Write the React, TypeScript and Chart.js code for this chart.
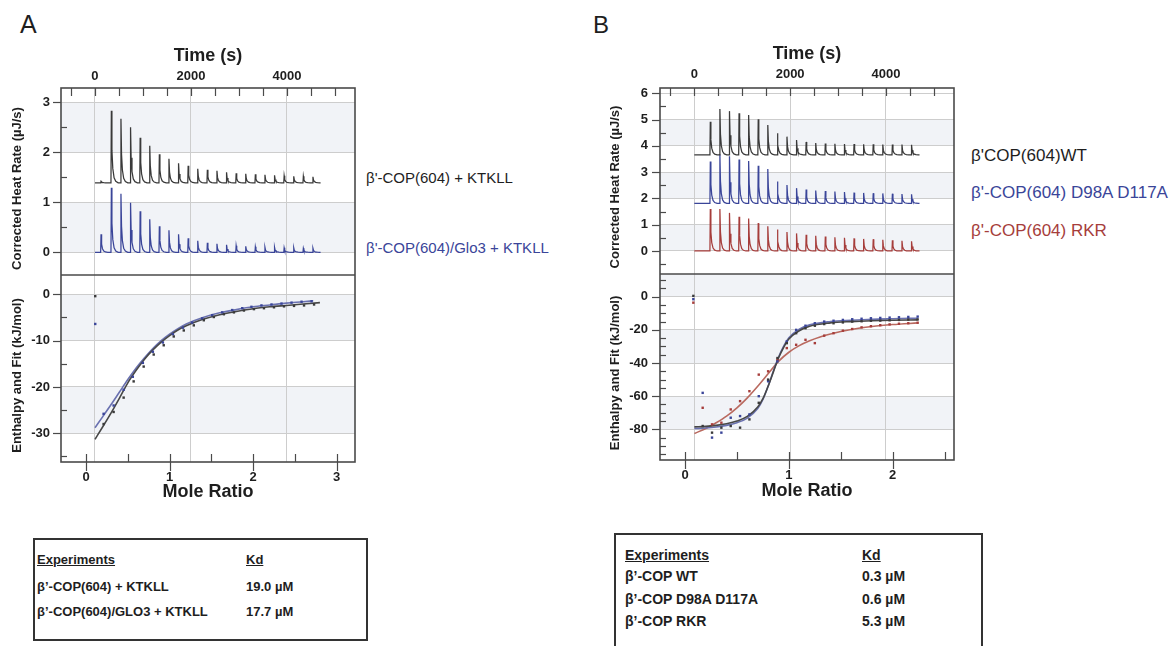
import React, { useEffect, useRef } from 'react';
import { Chart, registerables } from 'chart.js';

Chart.register(...registerables);

const FONT = "'Liberation Sans', Arial, Helvetica, sans-serif";
Chart.defaults.font.family = FONT;

// ---------------- Panel A : raw thermogram ----------------
const A_INJECTION_TIMES = [118, 333, 533, 733, 933, 1133, 1333, 1533, 1733, 1933, 2133, 2333, 2533, 2733, 2933, 3133, 3333, 3533, 3733, 3933, 4133, 4333, 4533];
const A_KTKLL_BASELINE = 1.39;
const A_KTKLL_PEAKS = [1.42, 2.83, 2.67, 2.5, 2.29, 2.13, 1.96, 1.87, 1.78, 1.73, 1.67, 1.65, 1.63, 1.6, 1.58, 1.57, 1.56, 1.55, 1.54, 1.53, 1.52, 1.52, 1.51];
const A_GLO3_BASELINE = 0.0;
const A_GLO3_PEAKS = [0.36, 1.29, 1.17, 0.99, 0.82, 0.66, 0.52, 0.44, 0.36, 0.28, 0.23, 0.19, 0.17, 0.15, 0.13, 0.12, 0.11, 0.1, 0.1, 0.09, 0.09, 0.08, 0.08];
const A_TRACE_END = 4700;

// ---------------- Panel A : binding isotherm ----------------
const A_RATIO_KTKLL = [0.11, 0.21, 0.33, 0.45, 0.57, 0.69, 0.81, 0.93, 1.05, 1.17, 1.29, 1.41, 1.53, 1.65, 1.77, 1.89, 2.01, 2.13, 2.25, 2.37, 2.49, 2.61, 2.73];
const A_DH_KTKLL = [-0.4, -28.0, -25.4, -22.3, -18.8, -15.6, -13.0, -11.0, -9.1, -7.8, -6.7, -5.6, -4.9, -4.3, -3.9, -3.5, -3.2, -3.0, -2.8, -2.6, -2.5, -2.4, -2.2];
const A_RATIO_GLO3 = [0.11, 0.21, 0.33, 0.45, 0.56, 0.68, 0.8, 0.92, 1.04, 1.16, 1.27, 1.39, 1.51, 1.63, 1.75, 1.87, 1.98, 2.1, 2.22, 2.34, 2.46, 2.58, 2.7];
const A_DH_GLO3 = [-6.4, -25.8, -24.0, -20.6, -17.8, -14.8, -12.4, -10.4, -8.6, -7.2, -6.1, -5.2, -4.5, -3.9, -3.4, -3.0, -2.7, -2.4, -2.2, -2.0, -1.8, -1.6, -1.5];
const A_FIT_RATIO_KTKLL = [0.107, 0.2, 0.3, 0.4, 0.5, 0.6, 0.7, 0.8, 0.9, 1.0, 1.1, 1.2, 1.4, 1.6, 1.8, 2.0, 2.2, 2.4, 2.6, 2.8];
const A_FIT_KTKLL = [-31.3, -28.6, -25.6, -22.4, -19.1, -16.4, -14.0, -12.0, -10.3, -8.9, -7.7, -6.8, -5.4, -4.4, -3.7, -3.1, -2.7, -2.4, -2.1, -1.8];
const A_FIT_RATIO_GLO3 = [0.107, 0.2, 0.3, 0.4, 0.5, 0.6, 0.7, 0.8, 0.9, 1.0, 1.1, 1.2, 1.4, 1.6, 1.8, 2.0, 2.2, 2.4, 2.6, 2.72];
const A_FIT_GLO3 = [-28.8, -26.4, -23.8, -21.1, -18.4, -15.9, -13.7, -11.7, -10.0, -8.6, -7.4, -6.4, -5.0, -4.0, -3.3, -2.7, -2.3, -1.9, -1.6, -1.4];

// ---------------- Panel B : raw thermogram ----------------
const B_INJECTION_TIMES = [326, 526, 726, 926, 1126, 1326, 1526, 1726, 1926, 2126, 2326, 2526, 2726, 2926, 3126, 3326, 3526, 3726, 3926, 4126, 4326, 4526];
const B_WT_BASELINE = 3.66;
const B_WT_PEAKS = [4.92, 5.4, 5.32, 5.24, 5.17, 5.01, 4.79, 4.48, 4.35, 4.22, 4.15, 4.11, 4.09, 4.08, 4.07, 4.07, 4.06, 4.06, 4.05, 4.05, 4.05, 4.04];
const B_D98A_BASELINE = 1.81;
const B_D98A_PEAKS = [3.4, 3.68, 3.6, 3.48, 3.42, 3.24, 3.12, 2.64, 2.51, 2.39, 2.34, 2.3, 2.28, 2.26, 2.24, 2.22, 2.21, 2.2, 2.19, 2.18, 2.17, 2.16];
const B_RKR_BASELINE = 0.0;
const B_RKR_PEAKS = [1.6, 1.6, 1.45, 1.3, 1.24, 1.06, 0.94, 0.82, 0.72, 0.67, 0.62, 0.58, 0.55, 0.52, 0.5, 0.48, 0.46, 0.45, 0.43, 0.41, 0.39, 0.37];
const B_TRACE_END = 4700;

// ---------------- Panel B : binding isotherm ----------------
const B_RATIO = [0.08, 0.17, 0.26, 0.35, 0.44, 0.53, 0.62, 0.71, 0.8, 0.89, 0.98, 1.07, 1.16, 1.25, 1.34, 1.43, 1.52, 1.61, 1.7, 1.79, 1.88, 1.97, 2.06, 2.15, 2.24];
const B_DH_WT = [0.5, -78, -82, -79, -78, -79, -74, -64, -50, -37, -28, -22, -19, -17.5, -16.5, -16, -15.5, -15, -14.8, -14.5, -14.4, -14.2, -14, -13.8, -13.7];
const B_DH_D98A = [-1.5, -58, -85, -82, -73, -72, -71, -60, -51, -39, -27, -20, -17.5, -16, -15, -14.5, -14, -13.6, -13.3, -13, -12.8, -12.6, -12.4, -12.2, -12];
const B_DH_RKR = [-3.6, -67, -77, -76, -68, -63, -57, -47, -45, -38, -31, -29, -26, -28, -23.5, -22, -20.5, -19.5, -18.5, -17.8, -17.2, -16.7, -16.3, -16, -15.7];
const B_FIT_RATIO = [0.09, 0.2, 0.3, 0.4, 0.5, 0.6, 0.7, 0.75, 0.8, 0.85, 0.9, 0.95, 1.0, 1.1, 1.2, 1.4, 1.6, 1.8, 2.0, 2.24];
const B_FIT_WT = [-78.5, -78.2, -77.6, -76.6, -75.0, -72.2, -66.5, -61.5, -54, -45.5, -37, -30.5, -25.5, -20.5, -17.8, -15.8, -15.0, -14.5, -14.2, -14.0];
const B_FIT_D98A = [-79.5, -79.2, -78.6, -77.6, -76.0, -73.2, -67.5, -62, -54, -45, -36.5, -29.8, -24.8, -19.6, -17.0, -15.0, -14.2, -13.6, -13.3, -13.0];
const B_FIT_RATIO_RKR = [0.09, 0.2, 0.3, 0.4, 0.5, 0.6, 0.7, 0.8, 0.9, 1.0, 1.1, 1.2, 1.3, 1.4, 1.5, 1.6, 1.8, 2.0, 2.24];
const B_FIT_RKR = [-82.5, -79.5, -76, -72, -67, -61, -54, -46.5, -39, -33.5, -29.5, -26.6, -24.3, -22.5, -21, -19.8, -18, -16.8, -15.8];

// ---------------- tick labels ----------------
const TIME_TICKS = [0, 2000, 4000];
const TIME_MINOR_STEP = 500;
const A_RATIO_TICKS = [0, 1, 2, 3];
const A_HEAT_TICKS = [0, 1, 2, 3];
const A_ENTH_TICKS = [0, -10, -20, -30];
const B_RATIO_TICKS = [0, 1, 2];
const B_HEAT_TICKS = [0, 1, 2, 3, 4, 5, 6];
const B_ENTH_TICKS = [0, -20, -40, -60, -80];

// ---------------- text ----------------
const TIME_TITLE = 'Time (s)';
const RATIO_TITLE = 'Mole Ratio';
const HEAT_TITLE = 'Corrected Heat Rate (µJ/s)';
const ENTH_TITLE = 'Enthalpy and Fit (kJ/mol)';

const A_LEGEND = ["β'-COP(604) + KTKLL", "β'-COP(604)/Glo3 + KTKLL"];
const B_LEGEND = ["β'COP(604)WT", "β'-COP(604) D98A D117A", "β'-COP(604) RKR"];
const A_TABLE_ROWS = ['β’-COP(604) + KTKLL', 'β’-COP(604)/GLO3 + KTKLL'];
const A_TABLE_KD = ['19.0 µM', '17.7 µM'];
const B_TABLE_ROWS = ['β’-COP WT', 'β’-COP D98A D117A', 'β’-COP RKR'];
const B_TABLE_KD = ['0.3 µM', '0.6 µM', '5.3 µM'];

// ---------------- colours ----------------
const C_BLACK = '#3a3a3a';
const C_BLUE = '#3a4599';
const C_RED = '#a63d3b';
const C_FIT_BLACK = '#474747';
const C_FIT_BLUE = '#6a71b0';
const C_FIT_RED = '#b9695f';
const GRID = '#cdcdcd';
const BAND = '#f1f3f7';
const FRAME = '#4a4a4a';
const TEXT = '#1e1e1e';

const PEAK_OFFSETS_S = [0, 8, 20, 38, 65, 100, 150];
const PEAK_PROFILE = [0, 1, 0.45, 0.2, 0.07, 0.02, 0];

function thermogram(times: number[], peaks: number[], base: number, end: number) {
  const pts: { x: number; y: number }[] = [{ x: 0, y: base }];
  times.forEach((t, i) => {
    PEAK_OFFSETS_S.forEach((dt, k) => {
      pts.push({ x: t + dt, y: base + (peaks[i] - base) * PEAK_PROFILE[k] });
    });
  });
  pts.push({ x: end, y: base });
  return pts;
}

const zip = (xs: number[], ys: number[]) => xs.map((x, i) => ({ x, y: ys[i] }));

const traceDs = (data: any[], color: string) => ({
  data, xAxisID: 'time', yAxisID: 'heat', borderColor: color, borderWidth: 1.25,
  pointRadius: 0, tension: 0, fill: false,
});
const pointsDs = (xs: number[], ys: number[], color: string) => ({
  data: zip(xs, ys), xAxisID: 'ratio', yAxisID: 'enth', showLine: false,
  pointStyle: 'rect', pointRadius: 1.7, pointBorderWidth: 0,
  pointBackgroundColor: color, borderColor: color, backgroundColor: color,
});
const fitDs = (xs: number[], ys: number[], color: string) => ({
  data: zip(xs, ys), xAxisID: 'ratio', yAxisID: 'enth', borderColor: color,
  borderWidth: 1.6, pointRadius: 0, cubicInterpolationMode: 'monotone', fill: false,
});

type AxisCfg = { min: number; max: number; ticks: number[]; major: number; minor: number };
type Panel = {
  canvas: { left: number; top: number; width: number; height: number };
  yWidth: number; topH: number; bottomH: number; padRight: number;
  time: [number, number];
  ratio: { min: number; max: number; ticks: number[] };
  heat: AxisCfg;
  enth: AxisCfg;
  yLabelPad: number; yTitleX: number; yTitleShift: number;
  timeLabelPad: number; timeTitlePad: number; ratioLabelPad: number; ratioTitlePad: number;
  bands: [string, number, number][];
  datasets: any[];
};

function itcPlugin(p: Panel) {
  return {
    id: 'itcFrame',
    beforeDraw(chart: any) {
      const { ctx, chartArea: ca, scales } = chart;
      ctx.save();
      ctx.fillStyle = BAND;
      p.bands.forEach(([id, lo, hi]) => {
        const s = scales[id];
        const a = Math.max(lo, s.min);
        const b = Math.min(hi, s.max);
        if (b <= a) return;
        const y1 = s.getPixelForValue(b);
        const y2 = s.getPixelForValue(a);
        ctx.fillRect(ca.left, y1, ca.right - ca.left, y2 - y1);
      });
      ctx.restore();
    },
    afterDraw(chart: any) {
      const { ctx, chartArea: ca, scales } = chart;
      const line = (x1: number, y1: number, x2: number, y2: number) => {
        ctx.beginPath(); ctx.moveTo(x1, y1); ctx.lineTo(x2, y2); ctx.stroke();
      };
      ctx.save();
      ctx.strokeStyle = FRAME;
      ctx.lineWidth = 1.2;
      (['heat', 'enth'] as const).forEach((id) => {
        const s = scales[id];
        const { major, minor } = p[id];
        for (let k = Math.ceil(s.min / minor); k <= Math.floor(s.max / minor); k++) {
          const v = k * minor;
          const y = Math.round(s.getPixelForValue(v)) + 0.5;
          const isMajor = Math.abs(v / major - Math.round(v / major)) < 1e-6;
          if (isMajor) line(ca.left - 8, y, ca.left, y);
          else line(ca.left, y, ca.left + 6, y);
        }
      });
      const ts = scales.time;
      for (let k = Math.ceil(ts.min / TIME_MINOR_STEP); k <= Math.floor(ts.max / TIME_MINOR_STEP); k++) {
        const x = Math.round(ts.getPixelForValue(k * TIME_MINOR_STEP)) + 0.5;
        line(x, ca.top, x, ca.top + 8);
      }
      const rs = scales.ratio;
      for (let k = Math.ceil(rs.min / 0.5); k <= Math.floor(rs.max / 0.5); k++) {
        const x = Math.round(rs.getPixelForValue(k * 0.5)) + 0.5;
        if (k % 2 === 0) line(x, ca.bottom - 8, x, ca.bottom + 9);
        else line(x, ca.bottom - 8, x, ca.bottom);
      }
      ctx.lineWidth = 1.6;
      ctx.strokeRect(ca.left, ca.top, ca.right - ca.left, ca.bottom - ca.top);
      line(ca.left, scales.heat.bottom, ca.right, scales.heat.bottom);

      ctx.fillStyle = TEXT;
      ctx.font = `bold 13px ${FONT}`;
      ctx.textAlign = 'center';
      ctx.textBaseline = 'middle';
      ([['heat', HEAT_TITLE], ['enth', ENTH_TITLE]] as const).forEach(([id, text]) => {
        const s = scales[id];
        ctx.save();
        ctx.translate(p.yTitleX, (s.top + s.bottom) / 2 + p.yTitleShift);
        ctx.rotate(-Math.PI / 2);
        ctx.fillText(text, 0, 0);
        ctx.restore();
      });
      ctx.restore();
    },
  };
}

const setTicks = (values: number[]) => (s: any) => {
  s.ticks = values.map((value) => ({ value }));
};

function makeConfig(p: Panel): any {
  const tickFont = { size: 13, weight: 'bold' };
  const titleFont = { size: 18, weight: 'bold' };
  const yScale = (cfg: AxisCfg, weight: number) => ({
    type: 'linear', position: 'left', stack: 'left', stackWeight: 1, weight,
    min: cfg.min, max: cfg.max,
    afterFit: (s: any) => { s.width = p.yWidth; },
    afterBuildTicks: setTicks(cfg.ticks),
    ticks: { padding: p.yLabelPad, font: tickFont, color: TEXT, autoSkip: false,
      callback: (v: number) => String(v) },
    grid: { drawTicks: false, color: GRID, lineWidth: 1 },
    border: { display: false },
  });
  return {
    type: 'line',
    data: { datasets: p.datasets },
    plugins: [itcPlugin(p)],
    options: {
      animation: false, responsive: false, maintainAspectRatio: false, events: [],
      layout: { padding: { left: 0, top: 0, bottom: 0, right: p.padRight } },
      plugins: { legend: { display: false }, tooltip: { enabled: false } },
      scales: {
        time: {
          type: 'linear', position: 'top', min: p.time[0], max: p.time[1],
          afterFit: (s: any) => { s.height = p.topH; },
          afterBuildTicks: setTicks(TIME_TICKS),
          ticks: { autoSkip: false, maxRotation: 0, padding: p.timeLabelPad,
            font: tickFont, color: TEXT, callback: (v: number) => String(v) },
          grid: { drawTicks: false, lineWidth: 1, color: GRID },
          border: { display: false },
          title: { display: true, text: TIME_TITLE, font: titleFont, color: TEXT, padding: { top: p.timeTitlePad, bottom: 0 } },
        },
        ratio: {
          type: 'linear', position: 'bottom', min: p.ratio.min, max: p.ratio.max,
          afterFit: (s: any) => { s.height = p.bottomH; },
          afterBuildTicks: setTicks(p.ratio.ticks),
          ticks: { autoSkip: false, maxRotation: 0, padding: p.ratioLabelPad,
            font: tickFont, color: TEXT, callback: (v: number) => String(v) },
          grid: { display: false, drawTicks: false },
          border: { display: false },
          title: { display: true, text: RATIO_TITLE, font: titleFont, color: TEXT, padding: { top: 0, bottom: p.ratioTitlePad } },
        },
        heat: yScale(p.heat, 2),
        enth: yScale(p.enth, 1),
      },
    },
  };
}

const PANEL_A: Panel = {
  canvas: { left: 0, top: 40, width: 365, height: 465 },
  yWidth: 61, topH: 48, bottomH: 43, padRight: 10,
  time: [-708, 5417],
  ratio: { min: -0.3, max: 3.22, ticks: A_RATIO_TICKS },
  heat: { min: -0.454, max: 3.286, ticks: A_HEAT_TICKS, major: 1, minor: 0.5 },
  enth: { min: -36.2, max: 4.17, ticks: A_ENTH_TICKS, major: 10, minor: 5 },
  yLabelPad: 11, yTitleX: 17, yTitleShift: 7,
  timeLabelPad: 4.2, timeTitlePad: 5.2, ratioLabelPad: 7.2, ratioTitlePad: 2.2,
  bands: [['heat', 2, 3], ['heat', 0, 1], ['enth', -10, 0], ['enth', -30, -20]],
  datasets: [
    traceDs(thermogram(A_INJECTION_TIMES, A_KTKLL_PEAKS, A_KTKLL_BASELINE, A_TRACE_END), C_BLACK),
    traceDs(thermogram(A_INJECTION_TIMES, A_GLO3_PEAKS, A_GLO3_BASELINE, A_TRACE_END), C_BLUE),
    pointsDs(A_RATIO_KTKLL, A_DH_KTKLL, C_BLACK),
    pointsDs(A_RATIO_GLO3, A_DH_GLO3, C_BLUE),
    fitDs(A_FIT_RATIO_KTKLL, A_FIT_KTKLL, C_FIT_BLACK),
    fitDs(A_FIT_RATIO_GLO3, A_FIT_GLO3, C_FIT_BLUE),
  ],
};

const PANEL_B: Panel = {
  canvas: { left: 600, top: 40, width: 364, height: 463 },
  yWidth: 60, topH: 48, bottomH: 43, padRight: 10,
  time: [-716, 5420],
  ratio: { min: -0.241, max: 2.59, ticks: B_RATIO_TICKS },
  heat: { min: -0.875, max: 6.2, ticks: B_HEAT_TICKS, major: 1, minor: 0.5 },
  enth: { min: -98.5, max: 13.7, ticks: B_ENTH_TICKS, major: 20, minor: 5 },
  yLabelPad: 12, yTitleX: 15, yTitleShift: 6,
  timeLabelPad: 6.2, timeTitlePad: 3.2, ratioLabelPad: 7.2, ratioTitlePad: 1.2,
  bands: [['heat', 4, 5], ['heat', 2, 3], ['heat', 0, 1], ['enth', 0, 20], ['enth', -40, -20], ['enth', -80, -60]],
  datasets: [
    traceDs(thermogram(B_INJECTION_TIMES, B_WT_PEAKS, B_WT_BASELINE, B_TRACE_END), C_BLACK),
    traceDs(thermogram(B_INJECTION_TIMES, B_D98A_PEAKS, B_D98A_BASELINE, B_TRACE_END), C_BLUE),
    traceDs(thermogram(B_INJECTION_TIMES, B_RKR_PEAKS, B_RKR_BASELINE, B_TRACE_END), C_RED),
    pointsDs(B_RATIO, B_DH_WT, C_BLACK),
    pointsDs(B_RATIO, B_DH_D98A, C_BLUE),
    pointsDs(B_RATIO, B_DH_RKR, C_RED),
    fitDs(B_FIT_RATIO, B_FIT_WT, C_FIT_BLACK),
    fitDs(B_FIT_RATIO, B_FIT_D98A, C_FIT_BLUE),
    fitDs(B_FIT_RATIO_RKR, B_FIT_RKR, C_FIT_RED),
  ],
};

function PanelChart({ panel }: { panel: Panel }) {
  const ref = useRef<HTMLCanvasElement>(null);
  useEffect(() => {
    const chart = new Chart(ref.current as HTMLCanvasElement, makeConfig(panel));
    return () => chart.destroy();
  }, [panel]);
  const c = panel.canvas;
  return (
    <canvas
      ref={ref}
      width={c.width}
      height={c.height}
      style={{ position: 'absolute', left: c.left, top: c.top, width: c.width, height: c.height }}
    />
  );
}

function Txt({ x, y, size, color = TEXT, bold = false, underline = false, children }: any) {
  return (
    <div
      style={{
        position: 'absolute', left: x, top: y - size / 2, fontSize: size, lineHeight: 1,
        fontWeight: bold ? 'bold' : 'normal', color, whiteSpace: 'nowrap',
        textDecoration: underline ? 'underline' : 'none',
      }}
    >
      {children}
    </div>
  );
}

export default function App() {
  return (
    <div
      style={{
        position: 'absolute', left: 0, top: 0, width: 1172, height: 646, overflow: 'hidden',
        background: '#fff', fontFamily: FONT,
      }}
    >
      <Txt x={20} y={24} size={25}>A</Txt>
      <Txt x={593} y={25} size={24}>B</Txt>

      <PanelChart panel={PANEL_A} />
      <PanelChart panel={PANEL_B} />

      <Txt x={366} y={177} size={15} color={TEXT}>{A_LEGEND[0]}</Txt>
      <Txt x={366} y={247} size={15} color={C_BLUE}>{A_LEGEND[1]}</Txt>

      <Txt x={971} y={155} size={17} color={TEXT}>{B_LEGEND[0]}</Txt>
      <Txt x={971} y={192} size={17} color={C_BLUE}>{B_LEGEND[1]}</Txt>
      <Txt x={971} y={230} size={17} color={C_RED}>{B_LEGEND[2]}</Txt>

      <div style={{ position: 'absolute', left: 33, top: 538, width: 335, height: 103, border: '2px solid #333', boxSizing: 'border-box' }} />
      <Txt x={37} y={559} size={13} bold underline>Experiments</Txt>
      <Txt x={246} y={559} size={13} bold underline>Kd</Txt>
      {A_TABLE_ROWS.map((r, i) => (
        <React.Fragment key={r}>
          <Txt x={37} y={586 + i * 25} size={13} bold>{r}</Txt>
          <Txt x={246} y={586 + i * 25} size={13} bold>{A_TABLE_KD[i]}</Txt>
        </React.Fragment>
      ))}

      <div style={{ position: 'absolute', left: 614, top: 533, width: 369, height: 140, border: '2px solid #333', boxSizing: 'border-box' }} />
      <Txt x={625} y={555} size={14} bold underline>Experiments</Txt>
      <Txt x={862} y={555} size={14} bold underline>Kd</Txt>
      {B_TABLE_ROWS.map((r, i) => (
        <React.Fragment key={r}>
          <Txt x={625} y={576 + i * 22.5} size={14} bold>{r}</Txt>
          <Txt x={862} y={576 + i * 22.5} size={14} bold>{B_TABLE_KD[i]}</Txt>
        </React.Fragment>
      ))}
    </div>
  );
}
